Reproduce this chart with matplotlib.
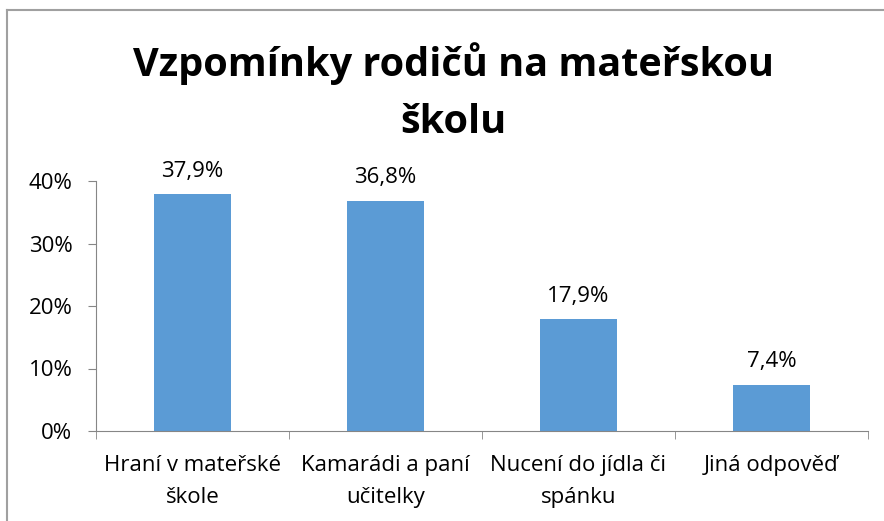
import matplotlib
matplotlib.use("Agg")
import matplotlib.pyplot as plt
from matplotlib.lines import Line2D
from matplotlib.ticker import FixedLocator

categories = ["Hraní v mateřské\nškole", "Kamarádi a paní\nučitelky",
              "Nucení do jídla či\nspánku", "Jiná odpověď"]
values = [37.9, 36.8, 17.9, 7.4]
value_labels = ["37,9%", "36,8%", "17,9%", "7,4%"]
yticks = [0, 10, 20, 30, 40]
ytick_labels = ["0%", "10%", "20%", "30%", "40%"]
title = "Vzpomínky rodičů na mateřskou\nškolu"

plt.rcParams['font.family'] = ['Open Sans', 'DejaVu Sans']

W, H = 884, 521
fig = plt.figure(figsize=(W / 100, H / 100), dpi=100)
ax = fig.add_axes([96 / W, 1 - 431 / H, (868 - 96) / W, (431 - 181) / H])

x = list(range(len(values)))
ax.bar(x, values, width=0.4, color="#5B9BD5", zorder=2)
ax.set_xlim(-0.5, len(values) - 0.5)
ax.set_ylim(0, 40)

for xi, v, lab in zip(x, values, value_labels):
    ax.annotate(lab, (xi, v), xytext=(0, 9), textcoords="offset points",
                ha="center", va="bottom", fontsize=16, color="#000000")

gray = "#868686"
for s in ["top", "right"]:
    ax.spines[s].set_visible(False)
ax.spines["left"].set_color(gray)
ax.spines["bottom"].set_color(gray)

ax.set_yticks(yticks)
ax.set_yticklabels(ytick_labels, fontsize=16)
ax.tick_params(axis="y", length=6, color=gray, pad=11)

ax.set_xticks(x)
ax.set_xticklabels(categories, fontsize=16, linespacing=1.72)
ax.tick_params(axis="x", which="major", length=0, pad=17)
ax.xaxis.set_minor_locator(FixedLocator([i - 0.5 for i in range(len(values) + 1)]))
ax.tick_params(axis="x", which="minor", length=6, color=gray)

fig.text(0.513, 1 - 92 / H, title, ha="center", va="center", fontsize=28.5,
         fontweight="bold", linespacing=1.6)

# chart border
fig.add_artist(Line2D([7 / W, 7 / W], [0, 1 - 10 / H], color="#A0A0A0", lw=1.5,
                      transform=fig.transFigure))
fig.add_artist(Line2D([7 / W, 1], [1 - 10 / H, 1 - 10 / H], color="#A0A0A0", lw=1.5,
                      transform=fig.transFigure))

fig.savefig("out.png", dpi=100)
